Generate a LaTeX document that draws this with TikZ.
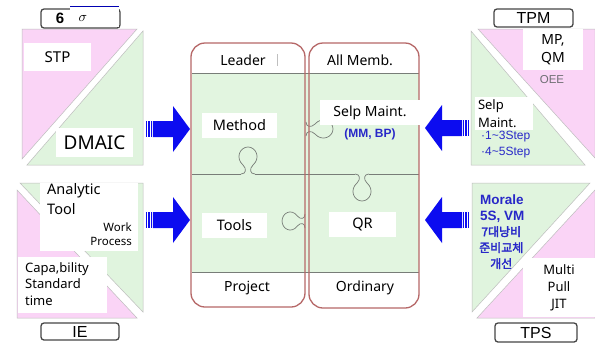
\documentclass[tikz,border=0pt]{standalone}
\usepackage{fontspec}
\setmainfont{Noto Sans}
\newfontfamily\arialf{Liberation Sans}
\newfontfamily\krf[AutoFakeBold=2.5]{Noto Sans CJK KR}
\definecolor{pinkf}{RGB}{250,212,246}
\definecolor{greenf}{RGB}{224,244,222}
\definecolor{panelg}{RGB}{226,245,224}
\definecolor{arrowblue}{RGB}{12,12,240}
\definecolor{txtblue}{RGB}{40,40,200}
\definecolor{panred}{RGB}{182,104,104}
\definecolor{trigray}{RGB}{190,190,190}
\definecolor{puzgray}{RGB}{120,125,120}
\definecolor{lblgray}{RGB}{70,70,70}
\definecolor{oeegray}{RGB}{110,110,115}
\tikzset{
  barrow/.pic={
    \fill[arrowblue] (0,-8) rectangle (1.3,8);
    \fill[arrowblue] (2.3,-8) rectangle (3.6,8);
    \fill[arrowblue] (4.6,-8) rectangle (5.9,8);
    \fill[arrowblue] (6.9,-8) -- (27,-8) -- (27,-23) -- (44,0) -- (27,23) -- (27,8) -- (6.9,8) -- cycle;
  },
  knob/.pic={
    \draw[puz] (-7,0) .. controls (-2,0) and (-1,-5) .. (-5,-9)
      .. controls (-13,-16) and (-8,-27) .. (0,-27)
      .. controls (8,-27) and (13,-16) .. (5,-9)
      .. controls (1,-5) and (2,0) .. (7,0);
  },
  puz/.style={draw=puzgray, line width=0.7pt},
  tri/.style={draw=trigray, line width=0.5pt},
  lbl/.style={draw=lblgray, line width=1.3pt, rounded corners=3pt, fill=white},
  wbox/.style={fill=white, draw=none, inner sep=0pt},
  pan/.style={draw=panred, line width=1.3pt, rounded corners=14pt},
  txt/.style={inner sep=0pt, font=\fontsize{14}{17}\selectfont},
}
\begin{document}
\begin{tikzpicture}[x=1pt,y=-1pt]
\useasboundingbox[fill=white] (0,0) rectangle (595,346);

% ---------- top-left block (6 sigma)
\filldraw[tri, fill=pinkf] (22,29) -- (137,29) -- (22,159) -- cycle;
\filldraw[tri, fill=greenf] (143,31) -- (143,165) -- (27,165) -- cycle;
\draw[lbl] (41,9) rectangle (120,28);
\node[inner sep=0pt, font=\arialf\bfseries\fontsize{15}{15}\selectfont] (six) at (60,18) {6};
\fill[white] (70,6) rectangle (118.5,27);
\draw[blue!70!black, line width=0.8pt] (70,6) -- (118.5,6);
\node[inner sep=0pt, scale=1.4] (sigma) at (83,18) {$\sigma$};
\node[wbox, minimum width=67pt, minimum height=28pt, font=\fontsize{15}{15}\selectfont] (stp) at (57.5,57) {STP};
\node[wbox, minimum width=77pt, minimum height=29pt, font=\fontsize{19}{19}\selectfont] (dmaic) at (94.5,142.5) {DMAIC};

% ---------- bottom-left block (IE)
\filldraw[tri, fill=greenf] (20,183) -- (143,183) -- (143,312) -- cycle;
\filldraw[tri, fill=pinkf] (17,190) -- (17,318) -- (137,318) -- cycle;
\fill[white] (40,183) rectangle (138,251);
\node[txt, anchor=west, font=\fontsize{14.5}{17}\selectfont] (analytic) at (47,191) {Analytic};
\node[txt, anchor=west, font=\fontsize{14.5}{17}\selectfont] (tool) at (47,209) {Tool};
\node[inner sep=0pt, anchor=east, font=\fontsize{11.5}{13}\selectfont] (work) at (132,227) {Work};
\node[inner sep=0pt, anchor=east, font=\fontsize{11.5}{13}\selectfont] (process) at (132,241) {Process};
\fill[white] (18,257) rectangle (107,313);
\node[inner sep=0pt, anchor=north west, align=left, font=\fontsize{13}{16.5}\selectfont] (capa) at (25,262) {Capa,bility\\Standard\\time};
\node[lbl, minimum width=78pt, minimum height=17pt, inner sep=0pt, font=\arialf\fontsize{16}{16}\selectfont] (ie) at (80,331.5) {IE};

% ---------- top-right block (TPM)
\filldraw[tri, fill=greenf] (471,31) -- (471,165) -- (585,165) -- cycle;
\filldraw[tri, fill=pinkf] (478,29) -- (595,29) -- (595,158) -- cycle;
\node[lbl, minimum width=79pt, minimum height=18pt, inner sep=0pt, font=\arialf\fontsize{16}{16}\selectfont] (tpm) at (533.5,18) {TPM};
\node[wbox, minimum width=60pt, minimum height=41pt, align=center, font=\fontsize{14}{18}\selectfont] (mpqm) at (553,49.5) {MP,\\QM};
\node[inner sep=0pt, font=\arialf\fontsize{11.5}{12}\selectfont, text=oeegray] (oee) at (552,80) {OEE};
\node[wbox, minimum width=58pt, minimum height=33pt, text width=52pt, align=left, font=\fontsize{13}{18}\selectfont] (selp2) at (504,113.5) {Selp\\Maint.};
\node[inner sep=0pt, anchor=north west, align=left, text=txtblue, font=\arialf\fontsize{12}{16}\selectfont] (steps) at (481,131) {\textperiodcentered1\textasciitilde3Step\\\textperiodcentered4\textasciitilde5Step};

% ---------- bottom-right block (TPS)
\filldraw[tri, fill=greenf] (472,183) -- (590,183) -- (472,312) -- cycle;
\filldraw[tri, fill=pinkf] (477,318) -- (595,318) -- (595,190) -- cycle;
\node[inner sep=0pt, anchor=north west, align=left, text=txtblue, font=\arialf\bfseries\fontsize{13.5}{15.5}\selectfont] (morale) at (480,195) {Morale\\5S, VM};
\node[inner sep=0pt, anchor=north west, align=center, text=txtblue, font=\krf\bfseries\fontsize{12}{16}\selectfont] (kor) at (479,226) {7대낭비\\준비교체\\개선};
\node[wbox, minimum width=72pt, minimum height=59pt, align=center, font=\fontsize{13}{17}\selectfont] (mpj) at (559,287.5) {Multi\\Pull\\JIT};
\node[lbl, minimum width=82pt, minimum height=19pt, inner sep=0pt, font=\arialf\fontsize{16}{16}\selectfont] (tps) at (536,332.5) {TPS};

% ---------- centre panels
\fill[panelg] (192,73) rectangle (419,272);
\draw[puz] (192,73) -- (419,73);
\draw[puz] (192,272) -- (419,272);
\draw[puz] (192,174) -- (241,174);
\draw[puz] (255,174) -- (355,174);
\draw[puz] (369,174) -- (419,174);
\pic at (248,174) {knob};
\pic[rotate=180] at (362,174) {knob};
\pic[rotate=-90] at (306,129) {knob};
\pic[rotate=90,yscale=0.85] at (305,221) {knob};
\draw[pan] (191,43) rectangle (305,307);
\draw[pan] (309,43) rectangle (419,308);
\node[txt] (leader) at (243,60) {Leader};
\draw[black!25, line width=0.8pt] (277,54) -- (277,66);
\node[txt] (allm) at (360,60) {All Memb.};
\node[txt] (project) at (247,288) {Project};
\node[txt] (ordinary) at (365,288) {Ordinary};
\node[wbox, minimum width=75pt, minimum height=25pt, font=\fontsize{14.5}{14}\selectfont] (method) at (239.5,125.5) {Method};
\node[wbox, minimum width=100pt, minimum height=25pt, font=\fontsize{14}{14}\selectfont] (selp) at (370,112.5) {Selp Maint.};
\node[inner sep=0pt, text=txtblue, font=\arialf\bfseries\fontsize{12}{12}\selectfont] (mmbp) at (370,134) {(MM, BP)};
\node[wbox, minimum width=65pt, minimum height=25pt, font=\fontsize{14.5}{14}\selectfont] (tools) at (234.5,225.5) {Tools};
\node[wbox, minimum width=67pt, minimum height=25pt, font=\fontsize{14.5}{14}\selectfont] (qr) at (362.5,224.5) {QR};

% ---------- block arrows
\pic at (146,129) {barrow};
\pic at (146,220) {barrow};
\pic[xscale=-1] at (469,128) {barrow};
\pic[xscale=-1] at (469,220) {barrow};
\end{tikzpicture}
\end{document}
